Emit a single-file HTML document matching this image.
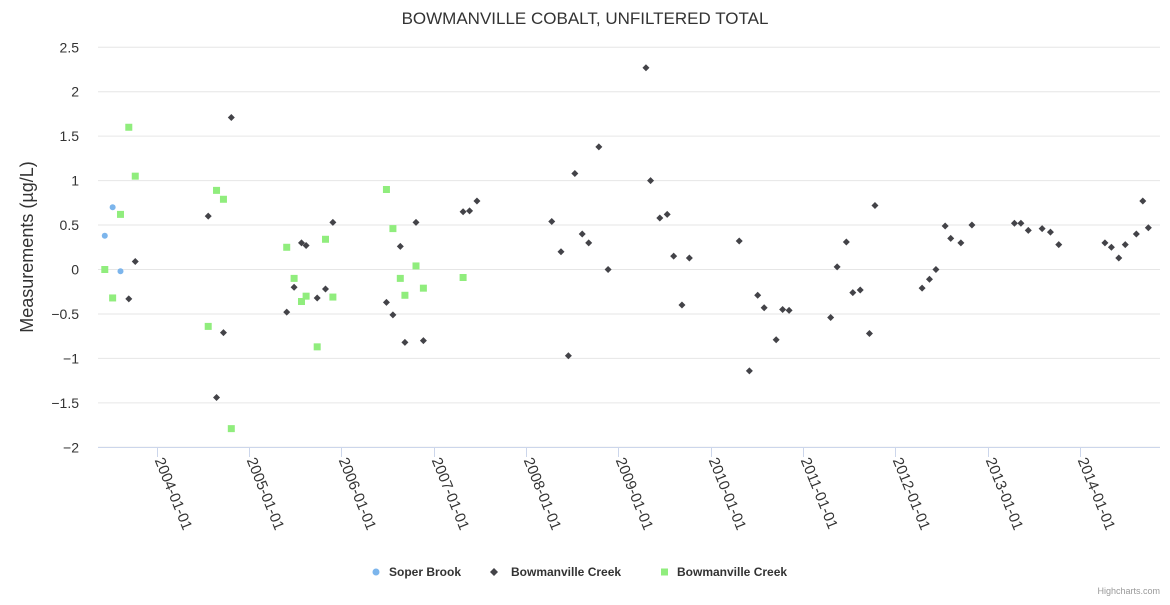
<!DOCTYPE html>
<html><head><meta charset="utf-8"><style>
body{margin:0;background:#fff;font-family:"Liberation Sans",sans-serif}
svg text{font-family:"Liberation Sans",sans-serif}
</style></head><body>
<svg id="c" width="1170" height="600" xmlns="http://www.w3.org/2000/svg">
<text x="585" y="24" text-anchor="middle" font-size="17" fill="#333">BOWMANVILLE COBALT, UNFILTERED TOTAL</text>
<text transform="translate(33,247) rotate(-90)" text-anchor="middle" font-size="18" fill="#333">Measurements (µg/L)</text>
<g id="grid"></g><g id="xaxis"></g><g id="marks"></g>
<g font-size="12" font-weight="bold" fill="#333">
<g><circle cx="376" cy="572" r="3.5" fill="#7cb5ec"/><text x="389" y="576">Soper Brook</text></g>
<g><path d="M494 568 L498 572 L494 576 L490 572Z" fill="#434348"/><text x="511" y="576">Bowmanville Creek</text></g>
<g><rect x="661" y="568.5" width="7" height="7" fill="#90ed7d"/><text x="677" y="576">Bowmanville Creek</text></g>
</g>
<text x="1160" y="594" text-anchor="end" font-size="9" fill="#999">Highcharts.com</text>
</svg>
<script>
const yTicks=[-2,-1.5,-1,-0.5,0,0.5,1,1.5,2,2.5];
const xTickYears=[2004,2005,2006,2007,2008,2009,2010,2011,2012,2013,2014];
const soperDates=[2003.44,2003.525,2003.61];
const soperVals=[0.38,0.70,-0.02];
const greenDates=[2003.44,2003.525,2003.61,2003.70,2003.77,2004.56,2004.65,2004.725,2004.81,2005.41,2005.49,2005.57,2005.62,2005.74,2005.83,2005.91,2006.49,2006.56,2006.64,2006.69,2006.81,2006.89,2007.32];
const greenVals=[0.0,-0.32,0.62,1.6,1.05,-0.64,0.89,0.79,-1.79,0.25,-0.1,-0.36,-0.3,-0.87,0.34,-0.31,0.9,0.46,-0.1,-0.29,0.04,-0.21,-0.09];
const blackDates=[2003.70,2003.77,2004.56,2004.65,2004.725,2004.81,2005.41,2005.49,2005.57,2005.62,2005.74,2005.83,2005.91,2006.49,2006.56,2006.64,2006.69,2006.81,2006.89,2007.32,2007.39,2007.47,2008.28,2008.38,2008.46,2008.53,2008.61,2008.68,2008.79,2008.89,2009.30,2009.35,2009.45,2009.53,2009.60,2009.69,2009.77,2010.31,2010.42,2010.51,2010.58,2010.71,2010.78,2010.85,2011.30,2011.37,2011.47,2011.54,2011.62,2011.72,2011.78,2012.29,2012.37,2012.44,2012.54,2012.60,2012.71,2012.83,2013.29,2013.36,2013.44,2013.59,2013.68,2013.77,2014.27,2014.34,2014.42,2014.49,2014.61,2014.68,2014.74];
const blackVals=[-0.33,0.09,0.6,-1.44,-0.71,1.71,-0.48,-0.2,0.3,0.27,-0.32,-0.22,0.53,-0.37,-0.51,0.26,-0.82,0.53,-0.8,0.65,0.66,0.77,0.54,0.2,-0.97,1.08,0.4,0.3,1.38,0.0,2.27,1.0,0.58,0.62,0.15,-0.4,0.13,0.32,-1.14,-0.29,-0.43,-0.79,-0.45,-0.46,-0.54,0.03,0.31,-0.26,-0.23,-0.72,0.72,-0.21,-0.11,0.0,0.49,0.35,0.3,0.5,0.52,0.52,0.44,0.46,0.42,0.28,0.3,0.25,0.13,0.28,0.4,0.77,0.47];
const NS="http://www.w3.org/2000/svg";
const L=98,R=1160;
function X(yr){return 156.5+(yr-2004)*92.35;}
function Y(v){return 269.5-v*88.9;}
function mk(t,a,p){const e=document.createElementNS(NS,t);for(const k in a)e.setAttribute(k,a[k]);p.appendChild(e);return e;}
const grid=document.getElementById('grid');
yTicks.forEach(v=>{
 const l=mk('line',{x1:L,x2:R,y1:Y(v),y2:Y(v),stroke:'#e6e6e6'},grid);
 
 
 const t=mk('text',{x:79,y:Y(v)+5,'text-anchor':'end','font-size':14,fill:'#333'},grid);
 
 
 t.textContent=String(v).replace('-','−');
});
const xa=document.getElementById('xaxis');
const al=mk('line',{x1:L,x2:R,y1:447.5,y2:447.5,stroke:'#ccd6eb'},xa);


xTickYears.forEach(yr=>{
 const x=Math.round(X(yr))+0.5;
 const tk=mk('line',{x1:x,x2:x,y1:447,y2:457,stroke:'#ccd6eb'},xa);
 
 
 const t=mk('text',{transform:`translate(${x-3},${460}) rotate(68)`,'font-size':15,fill:'#333'},xa);
 
 
 t.textContent=yr+'-01-01';
});
const m=document.getElementById('marks');
soperDates.forEach((d,i)=>{const c=mk('circle',{cx:X(d),cy:Y(soperVals[i]),r:3,fill:'#7cb5ec'},m);
 
 });
blackDates.forEach((d,i)=>{const x=X(d),y=Y(blackVals[i]);
 const p=mk('path',{d:`M${x} ${y-3.5}L${x+3.5} ${y}L${x} ${y+3.5}L${x-3.5} ${y}Z`,fill:'#434348'},m);
 
 });
greenDates.forEach((d,i)=>{const r=mk('rect',{x:X(d)-3.5,y:Y(greenVals[i])-3.5,width:7,height:7,fill:'#90ed7d'},m);
 
 });
</script>
</body></html>
